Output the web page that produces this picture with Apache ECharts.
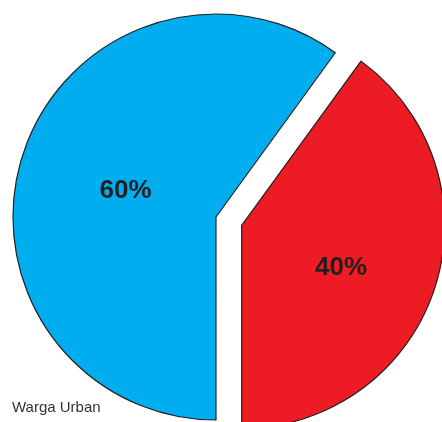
<!DOCTYPE html>
<html>
<head>
<meta charset="utf-8">
<script src="https://cdn.jsdelivr.net/npm/echarts@6/dist/echarts.min.js"></script>
<style>html,body{margin:0;padding:0;background:#fff;}#c{width:442px;height:422px;}</style>
</head>
<body>
<div id="c"></div>
<script>
var categories = ['Lainnya', 'Warga Urban'];
var values = [60, 40];
var colors = ['#00AEEF', '#ED1C24'];
var selectedFlags = [false, true];
var labelOffsets = [[9, 6], [0, 10]];

var chart = echarts.init(document.getElementById('c'), null, {renderer: 'canvas'});
chart.setOption({
  animation: false,
  backgroundColor: '#ffffff',
  title: {
    text: 'Warga Urban',
    left: 7,
    top: 395,
    textStyle: {fontFamily: 'Liberation Sans, Arial, sans-serif', fontSize: 15, fontWeight: 'normal', color: '#333333'}
  },
  series: [{
    type: 'pie',
    center: [216, 217],
    radius: 203,
    startAngle: 270,
    clockwise: true,
    selectedMode: 'single',
    selectedOffset: 27,
    percentPrecision: 0,
    avoidLabelOverlap: false,
    emphasis: {disabled: true},
    label: {
      show: true,
      position: 'inside',
      formatter: '{d}%',
      fontFamily: 'Liberation Sans, Arial, sans-serif',
      fontSize: 26,
      fontWeight: 'bold',
      color: '#231F20'
    },
    labelLine: {show: false},
    itemStyle: {borderColor: '#231F20', borderWidth: 1.2},
    data: categories.map(function (c, i) {
      return {
        name: c,
        value: values[i],
        selected: selectedFlags[i],
        itemStyle: {color: colors[i]},
        label: {offset: labelOffsets[i]},
        select: {label: {offset: labelOffsets[i]}, itemStyle: {color: colors[i]}}
      };
    })
  }]
});
</script>
</body>
</html>
